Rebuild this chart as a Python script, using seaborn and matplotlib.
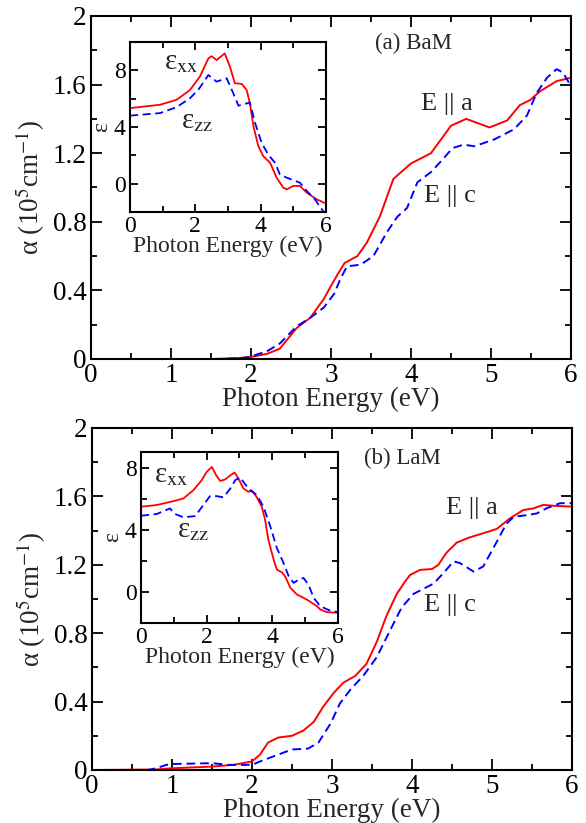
import matplotlib
matplotlib.use('Agg')
import matplotlib.pyplot as plt
from matplotlib.ticker import MultipleLocator, FuncFormatter
import seaborn as sns

# (a) BaM, absorption
ba_E_a = [0, 1.5, 1.8, 2.0, 2.2, 2.36, 2.57, 2.74, 2.91, 3.04, 3.17, 3.33, 3.45, 3.61, 3.78,
          4.0, 4.25, 4.5, 4.69, 4.98, 5.2, 5.36, 5.49, 5.61, 5.82, 6.0]
ba_alpha_a = [0, 0, 0.004, 0.012, 0.03, 0.06, 0.18, 0.24, 0.35, 0.46, 0.56, 0.60, 0.68, 0.83, 1.05,
              1.14, 1.20, 1.36, 1.40, 1.35, 1.39, 1.48, 1.51, 1.56, 1.62, 1.64]
ba_E_c = [0, 1.6, 1.9, 2.0, 2.2, 2.36, 2.57, 2.74, 2.91, 3.04, 3.12, 3.2, 3.37, 3.53, 3.7, 3.83,
          3.95, 4.08, 4.25, 4.37, 4.52, 4.66, 4.79, 5.04, 5.29, 5.45, 5.57, 5.7, 5.82, 5.9, 6.0]
ba_alpha_c = [0, 0, 0.006, 0.015, 0.045, 0.09, 0.19, 0.24, 0.30, 0.38, 0.47, 0.54, 0.55, 0.60, 0.74, 0.83,
              0.88, 1.03, 1.09, 1.15, 1.23, 1.25, 1.24, 1.28, 1.34, 1.42, 1.55, 1.64, 1.69, 1.67, 1.59]

# (a) BaM, dielectric function (inset)
ba_eps_E_xx = [0, 0.92, 1.43, 1.84, 2.14, 2.4, 2.5, 2.65, 2.9, 3.06, 3.21, 3.42, 3.57, 3.67, 3.78,
               3.93, 4.08, 4.29, 4.49, 4.69, 4.8, 5.0, 5.2, 5.41, 5.71, 6.0]
ba_eps_xx = [5.33, 5.57, 5.92, 6.62, 7.56, 8.84, 9.0, 8.72, 9.19, 8.26, 7.09, 7.04, 6.62, 5.68, 4.05,
             2.64, 1.94, 1.47, 0.42, -0.28, -0.4, -0.16, -0.16, -0.63, -1.1, -1.4]
ba_eps_E_zz = [0, 0.92, 1.43, 1.84, 2.09, 2.4, 2.65, 2.96, 3.16, 3.32, 3.67, 3.83, 4.03, 4.23,
               4.44, 4.59, 4.8, 5.2, 5.41, 5.66, 5.87, 6.0]
ba_eps_zz = [4.8, 4.98, 5.4, 6.04, 6.62, 7.67, 7.2, 7.44, 6.39, 5.5, 5.73, 4.28, 2.88, 2.06,
             1.47, 0.65, 0.42, 0.07, -0.51, -1.1, -1.8, -2.2]

# (b) LaM, absorption
la_E_a = [0, 0.8, 1.0, 1.5, 1.77, 2.0, 2.1, 2.2, 2.33, 2.5, 2.64, 2.77, 2.89, 3.02, 3.14, 3.29,
          3.43, 3.56, 3.68, 3.81, 3.91, 3.975, 4.1, 4.25, 4.33, 4.43, 4.56, 4.72, 4.93, 5.06,
          5.22, 5.39, 5.52, 5.64, 5.77, 6.0]
la_alpha_a = [0, 0.003, 0.01, 0.02, 0.03, 0.05, 0.09, 0.16, 0.19, 0.2, 0.23, 0.28, 0.37, 0.45, 0.51, 0.55,
              0.62, 0.75, 0.90, 1.03, 1.10, 1.14, 1.17, 1.175, 1.2, 1.27, 1.33, 1.36, 1.39, 1.41,
              1.47, 1.52, 1.53, 1.55, 1.545, 1.54]
la_E_c = [0, 0.7, 0.8, 0.93, 1.0, 1.5, 1.7, 2.0, 2.1, 2.27, 2.5, 2.7, 2.83, 2.98, 3.1, 3.23, 3.39,
          3.56, 3.73, 3.87, 4.02, 4.27, 4.39, 4.52, 4.6, 4.77, 4.89, 5.06, 5.18, 5.27, 5.43,
          5.56, 5.68, 5.85, 6.0]
la_alpha_c = [0, 0, 0.01, 0.03, 0.035, 0.04, 0.03, 0.03, 0.05, 0.08, 0.12, 0.125, 0.16, 0.27, 0.39, 0.47, 0.55,
              0.66, 0.82, 0.95, 1.03, 1.09, 1.15, 1.22, 1.21, 1.16, 1.19, 1.335, 1.44, 1.48, 1.49,
              1.5, 1.53, 1.56, 1.56]

# (b) LaM, dielectric function (inset)
la_eps_E_xx = [0, 0.48, 0.99, 1.29, 1.6, 1.85, 2.0, 2.16, 2.29, 2.41, 2.56, 2.72, 2.85, 2.97, 3.12,
               3.27, 3.38, 3.53, 3.68, 3.78, 3.88, 4.04, 4.14, 4.29, 4.39, 4.55, 4.75, 5.05,
               5.36, 5.46, 5.66, 6.0]
la_eps_xx = [5.48, 5.59, 5.84, 6.01, 6.55, 7.19, 7.72, 8.04, 7.5, 7.14, 7.23, 7.5, 7.68, 7.29, 6.65,
             6.44, 6.5, 6.08, 5.48, 4.63, 3.35, 2.07, 1.43, 1.26, 1.0, 0.26, -0.17, -0.49,
             -0.92, -1.13, -1.3, -1.34]
la_eps_E_zz = [0, 0.48, 0.88, 1.04, 1.29, 1.65, 1.9, 2.1, 2.31, 2.51, 2.72, 2.87, 3.02, 3.17, 3.33,
               3.53, 3.73, 3.94, 4.14, 4.34, 4.5, 4.65, 4.8, 4.95, 5.1, 5.26, 5.46, 5.72, 6.0]
la_eps_zz = [4.9, 5.01, 5.37, 5.01, 4.8, 4.88, 5.59, 6.16, 6.16, 6.08, 6.65, 7.19, 7.36, 6.93, 6.55,
             6.23, 5.48, 4.2, 2.81, 1.86, 1.0, 0.58, 0.79, 0.9, 0.47, -0.38, -0.92, -1.17, -1.3]

sns.set_style("ticks", {
    "xtick.direction": "in", "ytick.direction": "in",
    "xtick.top": True, "ytick.right": True,
    "xtick.bottom": True, "ytick.left": True,
})
plt.rcParams['font.family'] = ['Liberation Serif', 'DejaVu Serif']
plt.rcParams['mathtext.fontset'] = 'stix'

RED = '#ff0000'
BLUE = '#0000ff'

fig = plt.figure(figsize=(5.86, 8.23), dpi=100)


def style_axes(ax, major_len, minor_len, lsize):
    for s in ax.spines.values():
        s.set_linewidth(1.5)
        s.set_color('black')
    ax.tick_params(which='major', direction='in', bottom=True, left=True, top=True, right=True,
                   length=major_len, width=1.3, color='black', labelcolor='black',
                   labelsize=lsize, pad=3)
    ax.tick_params(which='minor', direction='in', bottom=True, left=True, top=True, right=True,
                   length=minor_len, width=1.3, color='black')


def fmt(v, pos):
    return '%g' % round(v, 3)


def main_panel(rect, E_a, al_a, E_c, al_c, tag, tag_xy, a_xy, c_xy):
    ax = fig.add_axes(rect)
    sns.lineplot(x=E_a, y=al_a, ax=ax, color=RED, lw=1.4)
    sns.lineplot(x=E_c, y=al_c, ax=ax, color=BLUE, lw=1.4, linestyle=(0, (4.5, 2.5)))
    ax.xaxis.set_major_locator(MultipleLocator(1))
    ax.xaxis.set_minor_locator(MultipleLocator(0.5))
    ax.yaxis.set_major_locator(MultipleLocator(0.4))
    ax.yaxis.set_minor_locator(MultipleLocator(0.2))
    ax.yaxis.set_major_formatter(FuncFormatter(fmt))
    style_axes(ax, 8, 4, 19.5)
    ax.set_xlim(0, 6)
    ax.set_ylim(0, 2)
    ax.set_xlabel('Photon Energy (eV)', fontsize=19.5, labelpad=-1)
    ax.set_ylabel('α (10$^5$cm$^{-1}$)', fontsize=19.5, labelpad=4)
    ax.text(tag_xy[0], tag_xy[1], tag, fontsize=16.5, ha='center', va='center')
    ax.text(a_xy[0], a_xy[1], 'E || a', fontsize=19, ha='center', va='center')
    ax.text(c_xy[0], c_xy[1], 'E || c', fontsize=19, ha='center', va='center')
    return ax


def inset_panel(rect, E_xx, e_xx, E_zz, e_zz, ymax, xx_xy, zz_xy):
    ax = fig.add_axes(rect)
    sns.lineplot(x=E_xx, y=e_xx, ax=ax, color=RED, lw=1.3)
    sns.lineplot(x=E_zz, y=e_zz, ax=ax, color=BLUE, lw=1.3, linestyle=(0, (4.5, 2.5)))
    ax.xaxis.set_major_locator(MultipleLocator(2))
    ax.xaxis.set_minor_locator(MultipleLocator(1))
    ax.yaxis.set_major_locator(MultipleLocator(4))
    ax.yaxis.set_minor_locator(MultipleLocator(2))
    style_axes(ax, 6, 4, 17)
    ax.set_xlim(0, 6)
    ax.set_ylim(-2, ymax)
    ax.set_xlabel('Photon Energy (eV)', fontsize=17, labelpad=-1)
    ax.set_ylabel('ε', fontsize=17, labelpad=1)
    ax.text(xx_xy[0], xx_xy[1], 'ε$_{\\rm xx}$', fontsize=21, ha='left', va='center')
    ax.text(zz_xy[0], zz_xy[1], 'ε$_{\\rm zz}$', fontsize=21, ha='left', va='center')
    return ax


main_panel([0.1553, 0.5638, 0.8191, 0.4168], ba_E_a, ba_alpha_a, ba_E_c, ba_alpha_c,
           '(a) BaM', (4.03, 1.84), (4.45, 1.485), (4.49, 0.95))
inset_panel([0.2218, 0.7424, 0.3345, 0.2066], ba_eps_E_xx, ba_eps_xx, ba_eps_E_zz, ba_eps_zz,
            10, (1.05, 8.6), (1.55, 4.4))

main_panel([0.157, 0.0644, 0.8191, 0.4156], la_E_a, la_alpha_a, la_E_c, la_alpha_c,
           '(b) LaM', (3.88, 1.82), (4.75, 1.53), (4.47, 0.965))
inset_panel([0.2406, 0.2430, 0.3362, 0.2078], la_eps_E_xx, la_eps_xx, la_eps_E_zz, la_eps_zz,
            9, (0.4, 7.5), (1.1, 4.0))

fig.savefig('out.png', dpi=100)
